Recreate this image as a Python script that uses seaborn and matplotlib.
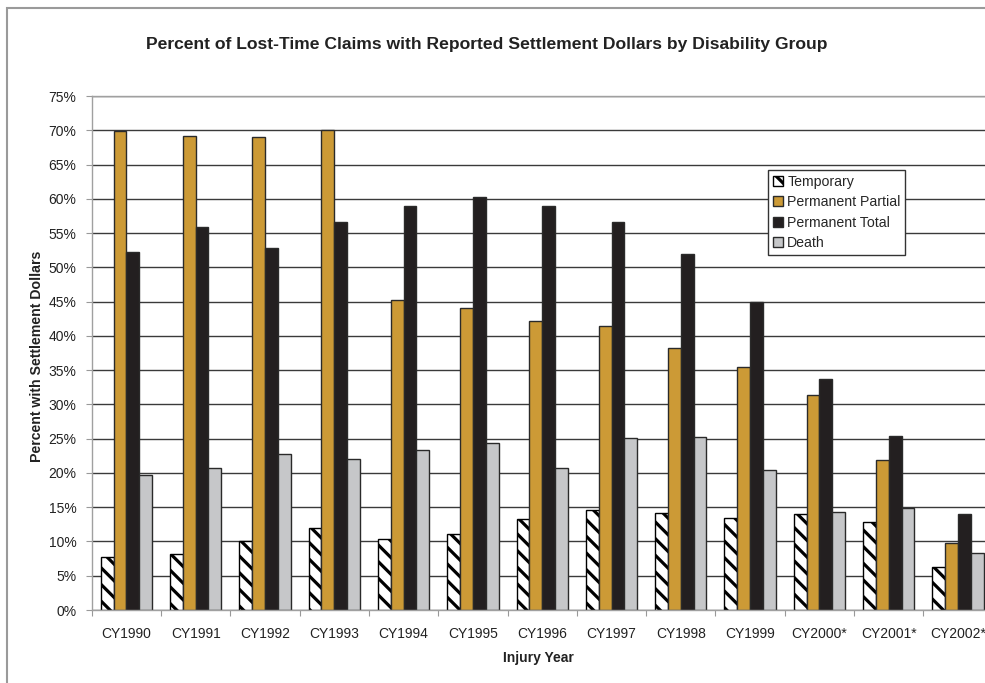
import matplotlib
matplotlib.use("Agg")
import matplotlib.pyplot as plt
import seaborn as sns
import pandas as pd
import numpy as np
from matplotlib.patches import Rectangle
from matplotlib.ticker import MultipleLocator, FixedLocator

years = ["CY1990", "CY1991", "CY1992", "CY1993", "CY1994", "CY1995", "CY1996",
         "CY1997", "CY1998", "CY1999", "CY2000*", "CY2001*", "CY2002*"]
groups = ["Temporary", "Permanent Partial", "Permanent Total", "Death"]
temporary = [7.7, 8.2, 10.0, 11.9, 10.4, 11.1, 13.3, 14.6, 14.1, 13.4, 14.0, 12.9, 6.3]
perm_partial = [69.9, 69.2, 69.0, 70.0, 45.3, 44.0, 42.2, 41.4, 38.2, 35.5, 31.4, 21.9, 9.8]
perm_total = [52.3, 55.9, 52.8, 56.6, 58.9, 60.3, 58.9, 56.6, 52.0, 44.9, 33.7, 25.4, 14.0]
death = [19.7, 20.7, 22.7, 22.1, 23.3, 24.4, 20.7, 25.1, 25.2, 20.5, 14.3, 14.9, 8.3]

series = [temporary, perm_partial, perm_total, death]
df = pd.DataFrame({
    "year": np.repeat([years], len(groups), axis=0).ravel(),
    "group": np.repeat(groups, len(years)),
    "value": np.concatenate(series),
})

sns.set_theme(style="white")
plt.rcParams["font.family"] = ["Liberation Sans", "DejaVu Sans"]
plt.rcParams["hatch.linewidth"] = 2.3
plt.rcParams["hatch.color"] = "black"

palette = {"Temporary": "#ffffff", "Permanent Partial": "#cc9a36",
           "Permanent Total": "#231f20", "Death": "#c6c7c9"}

fig = plt.figure(figsize=(9.85, 6.83), dpi=100)
fig.patch.set_facecolor("white")
ax = fig.add_axes([91.7 / 985, 1 - 610 / 683, 901 / 985, (610 - 96) / 683])

sns.barplot(data=df, x="year", y="value", hue="group", order=years,
            hue_order=groups, palette=palette, width=0.74, gap=0,
            edgecolor="#2a2a2a", linewidth=1.0, saturation=1, legend=False,
            errorbar=None, ax=ax)

for p in ax.containers[0].patches:
    p.set_hatch("\\\\")
    p.set_edgecolor("black")

ax.set_ylim(0, 75)
ax.set_xlim(-0.5, len(years) - 0.5)
ax.yaxis.set_major_locator(MultipleLocator(5))
ax.set_yticklabels([f"{int(v)}%" for v in ax.get_yticks()])
ax.yaxis.grid(True, color="#3a3a3a", linewidth=1.0)
ax.xaxis.grid(False)
ax.set_axisbelow(True)
gl = ax.yaxis.get_gridlines()
gl[-1].set_visible(False)
gl[0].set_visible(False)

ax.xaxis.set_minor_locator(FixedLocator(np.arange(-0.5, len(years), 1.0)))
ax.tick_params(axis="x", which="major", length=0, pad=12, labelsize=10, colors="#222222")
ax.tick_params(axis="x", which="minor", length=4, width=0.8, color="#999999", bottom=True)
ax.tick_params(axis="y", which="major", length=4, width=0.8, color="#999999",
               left=True, pad=7, labelsize=10, labelcolor="#222222")

for s in ["left", "bottom", "top"]:
    ax.spines[s].set_color("#a0a0a0")
    ax.spines[s].set_linewidth(1.0)
ax.spines["right"].set_visible(False)

ax.set_xlabel("Injury Year", fontsize=10, fontweight="bold", color="#222222")
ax.set_ylabel("Percent with Settlement Dollars", fontsize=10.2, fontweight="bold",
              color="#222222")
ax.yaxis.set_label_coords((44 - 91.7) / 901, (610 - 356) / 514)
ax.xaxis.set_label_coords((538 - 91.7) / 901, -(651 - 610) / 514)

fig.text(487 / 985, 1 - 44 / 683, "Percent of Lost-Time Claims with Reported Settlement Dollars by Disability Group",
         ha="center", va="center", fontsize=12.6, fontweight="bold", color="#222222")

handles = [c.patches[0] for c in ax.containers]
leg = ax.legend(handles, groups, loc="upper left",
                bbox_to_anchor=(768 / 985, 1 - 170 / 683), bbox_transform=fig.transFigure,
                borderaxespad=0, frameon=True, fancybox=False, framealpha=1,
                edgecolor="#333333", fontsize=10.2, handlelength=0.7, handleheight=0.7,
                handletextpad=0.3, labelspacing=0.45, borderpad=0.35)
leg.get_frame().set_linewidth(1.0)

fig.patches.append(Rectangle((7 / 985, -0.1), 1.2, 1 - 8 / 683 + 0.1,
                             transform=fig.transFigure, fill=False,
                             edgecolor="#9a9a9a", linewidth=1.5, zorder=0))

fig.savefig("out.png", dpi=100, facecolor="white")
